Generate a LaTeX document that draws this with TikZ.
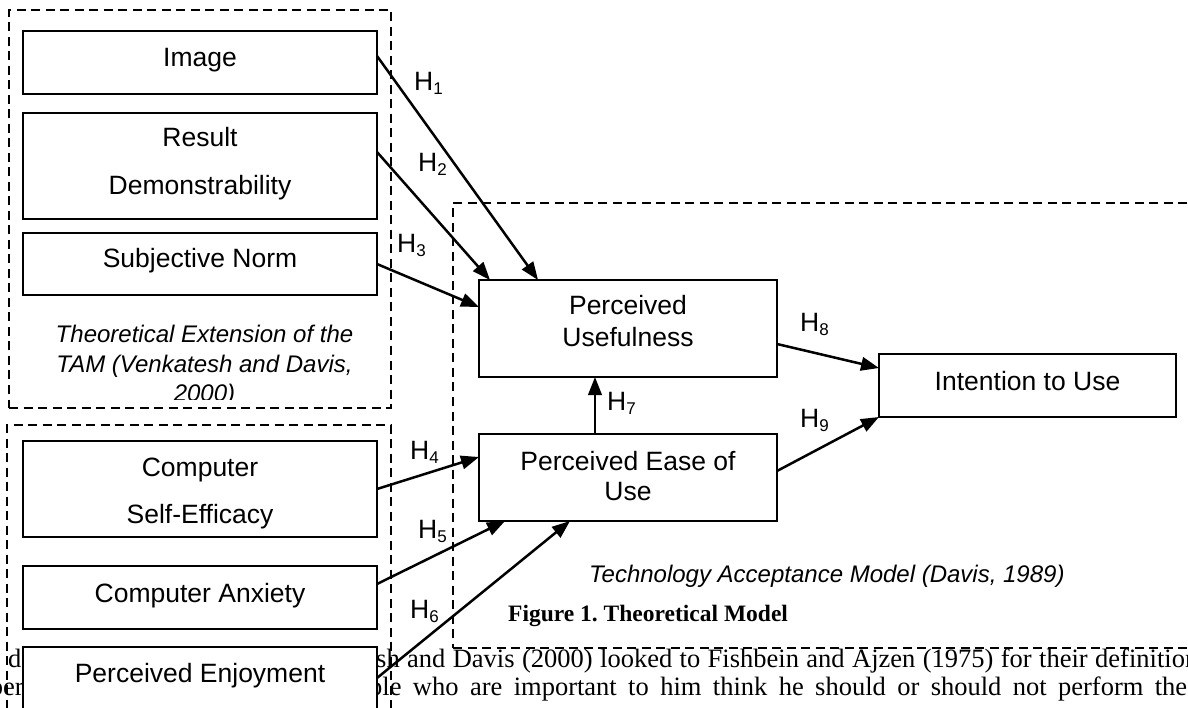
\documentclass[tikz,border=0pt]{standalone}
\usepackage{fontspec}
\setmainfont{Liberation Serif}
\newfontfamily\arial{Liberation Sans}
\usetikzlibrary{arrows.meta}
\frenchspacing
\newcommand\Hsub[1]{H\raisebox{-4pt}{\fontsize{17}{17}\selectfont #1}}
\begin{document}
\begin{tikzpicture}[x=1pt,y=-1pt,
  box/.style={draw, line width=2.5pt, fill=white, minimum width=354pt, anchor=north west, inner sep=0pt, outer sep=0pt},
  dbox/.style={draw, dash pattern=on 9pt off 5.5pt, line width=2pt, anchor=north west, inner sep=0pt, outer sep=0pt},
  lbl/.style={font=\arial\fontsize{26.5}{31}\selectfont, inner sep=0pt, anchor=base},
  hlbl/.style={font=\arial\fontsize{26.5}{31}\selectfont, inner sep=0pt, anchor=base west},
  ital/.style={font=\arial\itshape\fontsize{24}{29}\selectfont, inner sep=0pt},
  body/.style={font=\fontsize{26.5}{30}\selectfont, inner sep=0pt},
  arr/.style={line width=2.5pt, -{Triangle[length=18pt,width=13.5pt]}}]
\useasboundingbox (0,0) rectangle (1188,708);
\clip (0,0) rectangle (1188,708);

% background body text (partly hidden)
\node[body, anchor=base west] (b1l) at (8,667) {d};
\node[body, anchor=base east] (b2l) at (24,695) {per};
\node[body, anchor=base west] (b1r) at (376,667) {\makebox[822pt][s]{sh and Davis (2000) looked to Fishbein and Ajzen (1975) for their definition}};
\node[body, anchor=base west] (b2r) at (369,695) {\makebox[818pt][s]{ple who are important to him think he should or should not perform the}};

% dashed group frames
\node[dbox, minimum width=382pt, minimum height=398pt] (ext) at (9,10) {};
\node[dbox, minimum width=384pt, minimum height=335pt] (low) at (7,425) {};
\node[dbox, minimum width=797pt, minimum height=445pt] (tam) at (453,203) {};

% boxes
\node[box, minimum height=63pt] (img) at (23,31) {};
\node[box, minimum height=106pt] (res) at (23,113) {};
\node[box, minimum height=62pt] (subj) at (23,233) {};
\node[box, minimum height=96pt] (cse) at (23,441) {};
\node[box, minimum height=63pt] (anx) at (23,566) {};
\node[box, minimum height=100pt] (enj) at (23,647) {};
\node[box, minimum width=298pt, minimum height=97pt] (pu) at (479,280) {};
\node[box, minimum width=298pt, minimum height=87pt] (peou) at (479,434) {};
\node[box, minimum width=297pt, minimum height=63pt] (itu) at (879,354) {};

% box texts
\node[lbl] (timg) at (200,67) {Image};
\node[lbl] (tres1) at (200,147) {Result};
\node[lbl] (tres2) at (200,195) {Demonstrability};
\node[lbl] (tsubj) at (200,268) {Subjective Norm};
\node[lbl] (tcse1) at (200,476) {Computer};
\node[lbl] (tcse2) at (200,523) {Self-Efficacy};
\node[lbl] (tanx) at (200,602) {Computer Anxiety};
\node[lbl] (tenj) at (200,682) {Perceived Enjoyment};
\node[lbl] (tpu1) at (628,315) {Perceived};
\node[lbl] (tpu2) at (628,346) {Usefulness};
\node[lbl] (tpe1) at (628,470) {Perceived Ease of};
\node[lbl] (tpe2) at (628,500) {Use};
\node[lbl] (titu) at (1027.5,390) {Intention to Use};

% italic captions
\begin{scope}
\clip (9,10) rectangle (391,399.5);
\node[ital, anchor=base] (ext1) at (204.5,343) {Theoretical Extension of the};
\node[ital, anchor=base] (ext2) at (204.5,372) {TAM (Venkatesh and Davis,};
\node[ital, anchor=base] (ext3) at (204.5,401) {2000)};
\end{scope}
\node[ital, anchor=base west] (tamlbl) at (589,582) {Technology Acceptance Model (Davis, 1989)};
\node[font=\bfseries\fontsize{23.5}{28}\selectfont, inner sep=0pt, anchor=base west] (fig) at (508,621) {Figure 1. Theoretical Model};

% connectors
\draw[arr] ([yshift=6.5pt]img.east) -- ([xshift=-90pt]pu.north);
\draw[arr] ([yshift=14pt]res.east) -- ([xshift=11pt]pu.north west);
\draw[arr] (subj.east) -- ([yshift=-27pt]pu.north west);
\draw[arr] (cse.east) -- ([yshift=-23pt]peou.north west);
\draw[arr] ([yshift=13.5pt]anx.east) -- ([xshift=26pt]peou.south west);
\draw[arr] ([yshift=-31pt]enj.north east) -- ([xshift=91pt]peou.south west);
\draw[arr] ([xshift=116pt]peou.north west) -- ([xshift=116pt]pu.south west);
\draw[arr] ([yshift=-64pt]pu.north east) -- ([yshift=-14pt]itu.north west);
\draw[arr] ([yshift=-37pt]peou.north east) -- (itu.south west);

% hypothesis labels
\node[hlbl] (h1) at (414,91) {\Hsub{1}};
\node[hlbl] (h2) at (418,172) {\Hsub{2}};
\node[hlbl] (h3) at (397,253) {\Hsub{3}};
\node[hlbl] (h4) at (410,459) {\Hsub{4}};
\node[hlbl] (h5) at (418,538) {\Hsub{5}};
\node[hlbl] (h6) at (410,618) {\Hsub{6}};
\node[hlbl] (h7) at (607,410) {\Hsub{7}};
\node[hlbl] (h8) at (800,332) {\Hsub{8}};
\node[hlbl] (h9) at (800,427) {\Hsub{9}};
\end{tikzpicture}
\end{document}
